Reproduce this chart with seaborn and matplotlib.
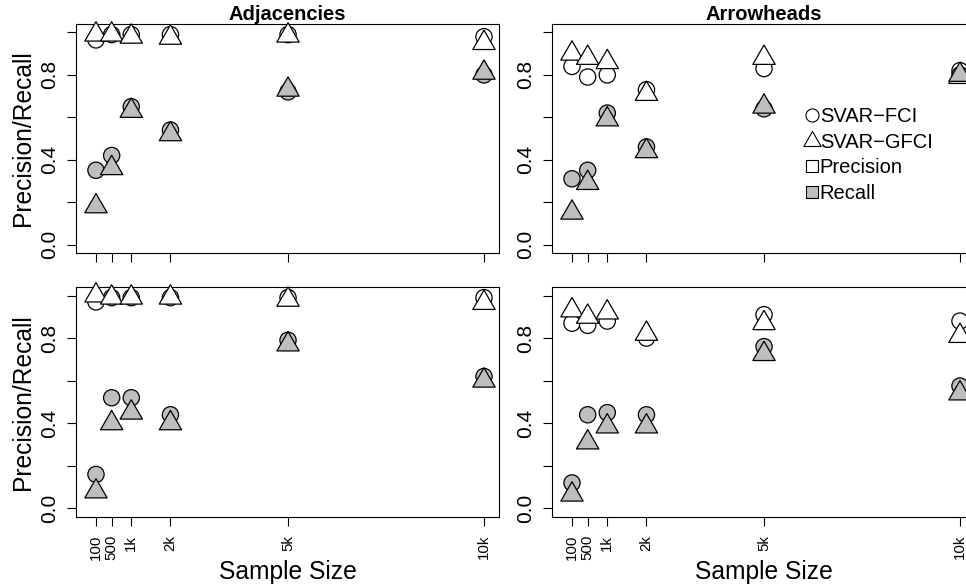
import numpy as np
import pandas as pd
import matplotlib
matplotlib.use("Agg")
import matplotlib.pyplot as plt
import seaborn as sns
from matplotlib.path import Path
from matplotlib.markers import MarkerStyle
from matplotlib.lines import Line2D

# ---------------- data ----------------
sample_sizes = [100, 500, 1000, 2000, 5000, 10000]
size_labels = ["100", "500", "1k", "2k", "5k", "10k"]
y_ticks = [0.0, 0.2, 0.4, 0.6, 0.8, 1.0]
y_tick_labels = ["0.0", "", "0.4", "", "0.8", ""]
panel_titles = ["Adjacencies", "Arrowheads", "", ""]
legend_labels = ["SVAR\u2212FCI", "SVAR\u2212GFCI", "Precision", "Recall"]

# top row
adj1_fci_prec = [0.965, 0.99, 0.99, 0.99, 0.99, 0.98]
adj1_fci_rec = [0.35, 0.42, 0.65, 0.54, 0.72, 0.80]
adj1_gfci_prec = [0.99, 0.99, 0.98, 0.975, 0.985, 0.95]
adj1_gfci_rec = [0.18, 0.36, 0.63, 0.52, 0.73, 0.81]

arr1_fci_prec = [0.84, 0.79, 0.80, 0.73, 0.83, 0.82]
arr1_fci_rec = [0.31, 0.35, 0.62, 0.46, 0.64, 0.80]
arr1_gfci_prec = [0.90, 0.88, 0.86, 0.71, 0.88, 0.79]
arr1_gfci_rec = [0.15, 0.29, 0.59, 0.44, 0.65, 0.80]

# bottom row
adj2_fci_prec = [0.97, 0.99, 0.99, 0.99, 0.99, 0.99]
adj2_fci_rec = [0.16, 0.52, 0.52, 0.44, 0.79, 0.62]
adj2_gfci_prec = [1.0, 0.99, 0.99, 0.99, 0.98, 0.965]
adj2_gfci_rec = [0.08, 0.40, 0.45, 0.40, 0.77, 0.60]

arr2_fci_prec = [0.87, 0.86, 0.88, 0.80, 0.91, 0.88]
arr2_fci_rec = [0.12, 0.44, 0.45, 0.44, 0.76, 0.575]
arr2_gfci_prec = [0.93, 0.90, 0.92, 0.82, 0.87, 0.81]
arr2_gfci_rec = [0.065, 0.31, 0.385, 0.385, 0.725, 0.54]

panels = [
    (adj1_fci_prec, adj1_fci_rec, adj1_gfci_prec, adj1_gfci_rec),
    (arr1_fci_prec, arr1_fci_rec, arr1_gfci_prec, arr1_gfci_rec),
    (adj2_fci_prec, adj2_fci_rec, adj2_gfci_prec, adj2_gfci_rec),
    (arr2_fci_prec, arr2_fci_rec, arr2_gfci_prec, arr2_gfci_rec),
]

# ---------------- style ----------------
sns.set_style("white")
plt.rcParams["font.family"] = ["Liberation Sans", "DejaVu Sans"]
plt.rcParams["axes.unicode_minus"] = True
for key in ["text.color", "axes.labelcolor", "xtick.color", "ytick.color",
            "axes.edgecolor"]:
    plt.rcParams[key] = "black"

GREY = "#BEBEBE"
tri_path = Path([(0, 1), (-0.8660254, -0.5), (0.8660254, -0.5), (0, 1)],
                [Path.MOVETO, Path.LINETO, Path.LINETO, Path.CLOSEPOLY])
TRI = MarkerStyle(tri_path)
S_CIRC = 137
S_TRI = 345

W, H = 966, 584
fig = plt.figure(figsize=(W / 100, H / 100), dpi=100)

# pixel boxes (left, top, right, bottom)
boxes = [
    (76, 24, 499, 253),
    (552, 24, 975, 253),
    (76, 287, 499, 517),
    (552, 287, 975, 517),
]

for i, (box, vals) in enumerate(zip(boxes, panels)):
    l, t, r, b = box
    ax = fig.add_axes([l / W, 1 - b / H, (r - l) / W, (b - t) / H])
    fci_p, fci_r, gfci_p, gfci_r = vals
    df_fci = pd.DataFrame({
        "n": sample_sizes * 2,
        "v": list(fci_p) + list(fci_r),
        "metric": ["Precision"] * 6 + ["Recall"] * 6,
    })
    df_gfci = pd.DataFrame({
        "n": sample_sizes * 2,
        "v": list(gfci_p) + list(gfci_r),
        "metric": ["Precision"] * 6 + ["Recall"] * 6,
    })
    pal = {"Precision": "white", "Recall": GREY}
    sns.scatterplot(data=df_fci, x="n", y="v", hue="metric", palette=pal,
                    marker="o", s=S_CIRC, edgecolor="black", linewidth=0.9,
                    legend=False, ax=ax, zorder=3, clip_on=False)
    sns.scatterplot(data=df_gfci, x="n", y="v", hue="metric", palette=pal,
                    marker=TRI, s=S_TRI, edgecolor="black", linewidth=0.9,
                    legend=False, ax=ax, zorder=4, clip_on=False)

    ax.set_xlim(-410, 10383)
    ax.set_ylim(-0.04, 1.04)
    ax.set_xticks(sample_sizes)
    ax.set_yticks(y_ticks)
    ax.set_yticklabels(y_tick_labels, rotation=90, va="center", fontsize=15)
    ax.tick_params(axis="both", direction="out", length=6.5, width=0.8,
                   color="black", labelcolor="black", left=True, bottom=True)
    ax.tick_params(axis="y", pad=5.5)
    ax.tick_params(axis="x", pad=6.5)
    for sp in ax.spines.values():
        sp.set_visible(True)
        sp.set_color("black")
        sp.set_linewidth(0.8)

    if i >= 2:
        ax.set_xticklabels(size_labels, rotation=90, fontsize=10.8)
        ax.set_xlabel("Sample Size", fontsize=17.7, color="black")
        ax.xaxis.set_label_coords(0.5, -0.186)
    else:
        ax.set_xticklabels([])
        ax.set_xlabel("")
    if i % 2 == 0:
        ax.set_ylabel("Precision/Recall", fontsize=17.7, color="black")
        ax.yaxis.set_label_coords(-0.0965, 0.5)
    else:
        ax.set_ylabel("")
    if panel_titles[i]:
        ax.set_title(panel_titles[i], fontsize=14.5, fontweight="bold",
                     pad=1.0, color="black")

    if i == 1:
        handles = [
            Line2D([], [], linestyle="none", marker="o", markersize=9.4,
                   markerfacecolor="white", markeredgecolor="black", markeredgewidth=0.8),
            Line2D([], [], linestyle="none", marker=TRI, markersize=14.4,
                   markerfacecolor="white", markeredgecolor="black", markeredgewidth=0.8),
            Line2D([], [], linestyle="none", marker="s", markersize=8,
                   markerfacecolor="white", markeredgecolor="black", markeredgewidth=0.8),
            Line2D([], [], linestyle="none", marker="s", markersize=8,
                   markerfacecolor=GREY, markeredgecolor="black", markeredgewidth=0.8),
        ]
        leg = fig.legend(handles, legend_labels, loc="center left",
                         bbox_to_anchor=(803.7 / W, 1 - 155.0 / H),
                         bbox_transform=fig.transFigure, frameon=False,
                         fontsize=14.5, handlelength=0.8, handletextpad=0.0,
                         borderpad=0, borderaxespad=0, labelspacing=0.32)
        for txt in leg.get_texts():
            txt.set_color("black")

fig.savefig("out.png", dpi=100)
